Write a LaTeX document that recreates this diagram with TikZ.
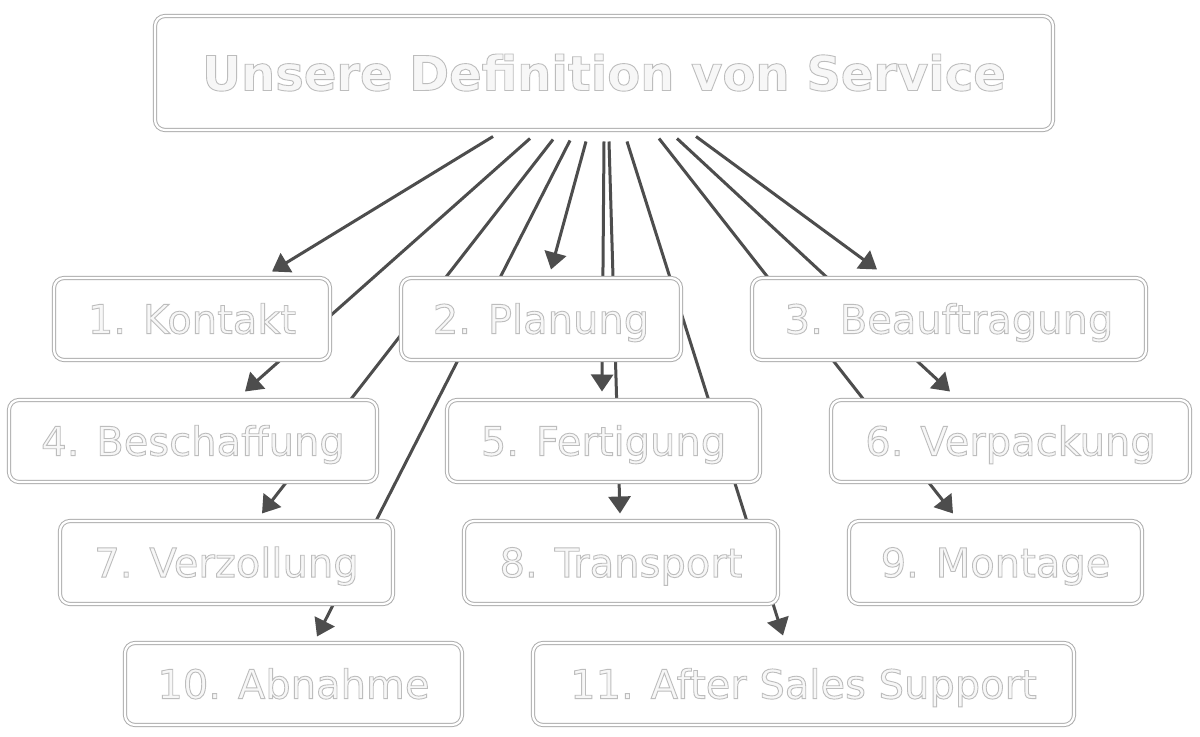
\documentclass[tikz,border=0pt]{standalone}
\usepackage{fontspec}
\setmainfont{DejaVu Sans}
\usetikzlibrary{arrows.meta,shadows}
\pgfdeclarelayer{background}
\pgfsetlayers{background,main}
\definecolor{linec}{HTML}{4D4D4D}
\definecolor{boxc}{HTML}{ADADAD}
\definecolor{txtc}{HTML}{F7F7F7}
\newcommand\embtxt[1]{{\color{txtc}\special{pdf:literal direct 2 Tr 0.45 w 0.74 0.74 0.74 RG}#1\special{pdf:literal direct 0 Tr}}}
\tikzset{
  box/.style={draw=boxc, line width=0.5pt, double=white, double distance=1.1pt,
    rounded corners=5pt, fill=white, inner sep=0pt, text height=14.6pt, text depth=0pt,
    minimum height=41pt, font=\fontsize{20}{24}\selectfont,
    drop shadow={opacity=0.22, shadow xshift=0.6pt, shadow yshift=-0.9pt}},
  titlebox/.style={box, minimum height=57pt, text height=17.5pt, font=\fontsize{24}{28}\selectfont\bfseries},
  arr/.style={draw=linec, line width=1.5pt, -{Triangle[length=8.5pt,width=11pt]}}
}
\begin{document}
\begin{tikzpicture}[x=0.5pt,y=-0.5pt]
\useasboundingbox (0,0) rectangle (1200,737);
% nodes
\node[titlebox, minimum width=449pt] (title) at (604,73) {\embtxt{Unsere Definition von Service}};
\node[box, minimum width=138pt] (k1) at (192,319) {\embtxt{1. Kontakt}};
\node[box, minimum width=140pt] (k2) at (541,319) {\embtxt{2. Planung}};
\node[box, minimum width=197pt] (k3) at (949,319) {\embtxt{3. Beauftragung}};
\node[box, minimum width=184pt] (k4) at (193,441) {\embtxt{4. Beschaffung}};
\node[box, minimum width=156.5pt] (k5) at (603.5,441) {\embtxt{5. Fertigung}};
\node[box, minimum width=179.5pt] (k6) at (1010.5,441) {\embtxt{6. Verpackung}};
\node[box, minimum width=166.5pt, minimum height=41.5pt] (k7) at (226.5,562.5) {\embtxt{7. Verzollung}};
\node[box, minimum width=157pt, minimum height=41.5pt] (k8) at (621,562.5) {\embtxt{8. Transport}};
\node[box, minimum width=146.5pt, minimum height=41.5pt] (k9) at (995.5,562.5) {\embtxt{9. Montage}};
\node[box, minimum width=168.5pt] (k10) at (293.5,684) {\embtxt{10. Abnahme}};
\node[box, minimum width=270.5pt] (k11) at (803.5,684) {\embtxt{11. After Sales Support}};
% start points below the title
\coordinate (s1) at ([shift={(-111,6)}]title.south);
\coordinate (s2) at ([shift={(-74,8)}]title.south);
\coordinate (s3) at ([shift={(-51,9)}]title.south);
\coordinate (s4) at ([shift={(-34,10)}]title.south);
\coordinate (s5) at ([shift={(-18,11)}]title.south);
\coordinate (s6) at ([shift={(0,11)}]title.south);
\coordinate (s7) at ([shift={(5,11)}]title.south);
\coordinate (s8) at ([shift={(23,11)}]title.south);
\coordinate (s9) at ([shift={(55,8)}]title.south);
\coordinate (s10) at ([shift={(73,8)}]title.south);
\coordinate (s11) at ([shift={(92,6)}]title.south);
\begin{pgfonlayer}{background}
\fill[white] (0,0) rectangle (1200,737);
\draw[arr] (s1) -- ([shift={(80,-6)}]k1.north);
\draw[arr] (s2) -- ([shift={(52,-8)}]k4.north);
\draw[arr] (s3) -- ([shift={(35.5,-7)}]k7.north);
\draw[arr] (s4) -- ([shift={(23.5,-6)}]k10.north);
\draw[arr] (s5) -- ([shift={(10,-8)}]k2.north);
\draw[arr] (s6) -- ([shift={(-1.5,-8)}]k5.north);
\draw[arr] (s7) -- ([shift={(-1,-7)}]k8.north);
\draw[arr] (s8) -- ([shift={(-20.5,-7)}]k11.north);
\draw[arr] (s9) -- ([shift={(-42.5,-7)}]k9.north);
\draw[arr] (s10) -- ([shift={(-60.5,-8)}]k6.north);
\draw[arr] (s11) -- ([shift={(-72,-8)}]k3.north);
\end{pgfonlayer}
\end{tikzpicture}
\end{document}
